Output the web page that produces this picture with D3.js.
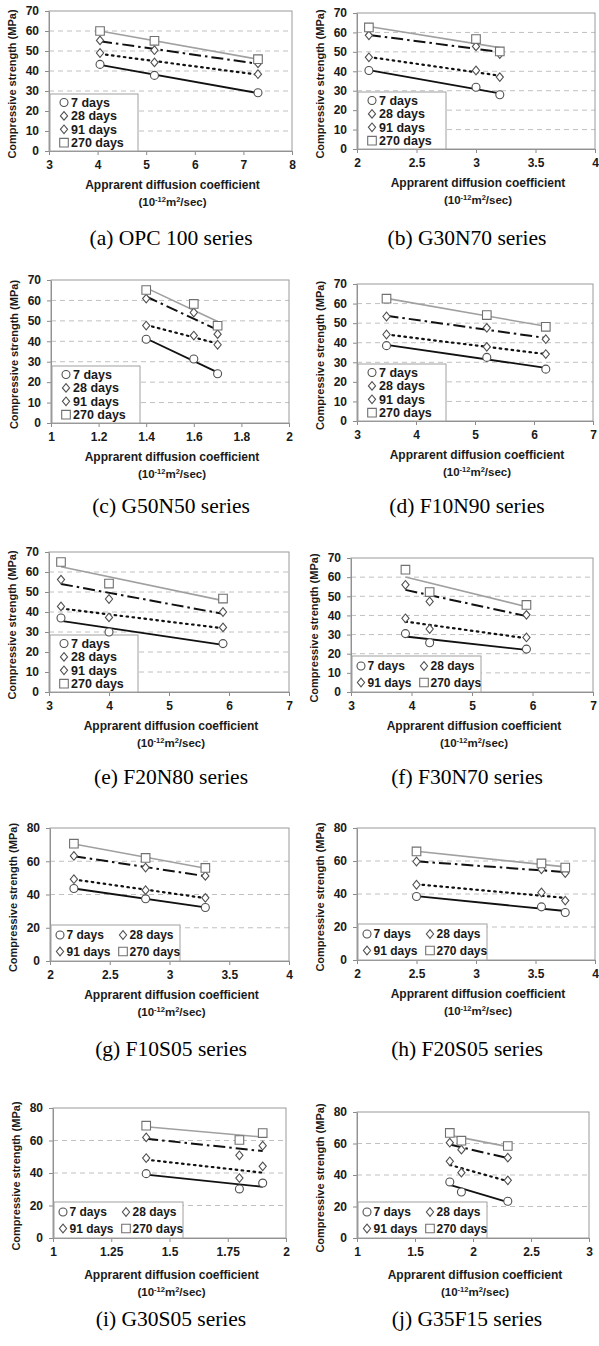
<!DOCTYPE html>
<html><head><meta charset="utf-8">
<script src="https://cdn.jsdelivr.net/npm/d3@7/dist/d3.min.js"></script>
<style>
body{margin:0;background:#fff;}
svg{display:block;}
text{font-family:"Liberation Sans",Arial,sans-serif;font-weight:bold;fill:#1a1a1a;}
text.cap{font-family:"Liberation Serif","Times New Roman",serif;font-weight:normal;font-size:21.5px;fill:#000;}
</style></head><body>
<svg id="fig" width="599" height="1346"></svg>
<script>
// Curing ages (one regression line + marker set each)
const ages = ["7 days", "28 days", "91 days", "270 days"];

// Panel captions
const captions = ["(a) OPC 100 series", "(b) G30N70 series", "(c) G50N50 series", "(d) F10N90 series",
  "(e) F20N80 series", "(f) F30N70 series", "(g) F10S05 series", "(h) F20S05 series",
  "(i) G30S05 series", "(j) G35F15 series"];

// Apparent diffusion coefficient (10^-12 m2/s) and compressive strength (MPa) per age
const opc100X = [4.05, 5.17, 7.3];
const opc100S = [[43.3, 37.8, 29.1], [49.0, 44.3, 38.4], [55.3, 50.4, 43.8], [60.0, 55.1, 45.9]];
const g30n70X = [2.1, 3.0, 3.2];
const g30n70S = [[40.4, 31.8, 27.9], [47.2, 40.4, 37.0], [58.5, 52.8, 48.9], [62.6, 56.6, 50.2]];
const g50n50X = [1.4, 1.6, 1.7];
const g50n50S = [[41.0, 31.3, 24.1], [47.7, 42.8, 38.3], [60.9, 54.1, 43.5], [65.1, 58.3, 47.6]];
const f10n90X = [3.5, 5.2, 6.2];
const f10n90S = [[38.5, 32.5, 26.5], [44.2, 37.9, 34.2], [53.4, 47.6, 41.8], [62.5, 54.1, 48.1]];
const f20n80X = [3.2, 4.0, 5.9];
const f20n80S = [[37.0, 30.0, 24.2], [42.8, 37.3, 32.3], [56.2, 46.5, 40.0], [65.0, 54.2, 46.7]];
const f30n70X = [3.9, 4.3, 5.9];
const f30n70S = [[30.5, 25.7, 22.4], [38.5, 32.9, 28.5], [56.0, 47.3, 40.3], [63.9, 52.2, 45.5]];
const f10s05X = [2.2, 2.8, 3.3];
const f10s05S = [[43.6, 37.4, 32.2], [49.2, 42.6, 38.0], [63.2, 56.2, 51.2], [70.6, 62.0, 56.0]];
const f20s05X = [2.5, 3.55, 3.75];
const f20s05S = [[38.5, 32.2, 28.8], [45.6, 40.9, 36.0], [59.7, 55.0, 52.7], [65.8, 58.5, 56.0]];
const g30s05X = [1.4, 1.8, 1.9];
const g30s05S = [[39.6, 30.2, 33.8], [49.2, 36.9, 44.1], [61.9, 50.9, 56.8], [69.1, 60.3, 64.6]];
const g35f15X = [1.8, 1.9, 2.3];
const g35f15S = [[35.6, 29.2, 23.3], [48.7, 41.5, 36.6], [60.5, 56.1, 51.0], [66.7, 61.8, 58.4]];

// Axis tick values
const xTicks3to8 = [3, 4, 5, 6, 7, 8];
const xTicks3to7 = [3, 4, 5, 6, 7];
const xTicks2to4 = [2, 2.5, 3, 3.5, 4];
const xTicks1to2 = [1, 1.2, 1.4, 1.6, 1.8, 2];
const xTicks1to2q = [1, 1.25, 1.5, 1.75, 2];
const xTicks1to3 = [1, 1.5, 2, 2.5, 3];
const yTicks70 = [0, 10, 20, 30, 40, 50, 60, 70];
const yTicks80 = [0, 20, 40, 60, 80];

const panels = [
  {x: opc100X, s: opc100S, xt: xTicks3to8, yt: yTicks70, legend: "col"},
  {x: g30n70X, s: g30n70S, xt: xTicks2to4, yt: yTicks70, legend: "col"},
  {x: g50n50X, s: g50n50S, xt: xTicks1to2, yt: yTicks70, legend: "col"},
  {x: f10n90X, s: f10n90S, xt: xTicks3to7, yt: yTicks70, legend: "col"},
  {x: f20n80X, s: f20n80S, xt: xTicks3to7, yt: yTicks70, legend: "col"},
  {x: f30n70X, s: f30n70S, xt: xTicks3to7, yt: yTicks70, legend: "grid"},
  {x: f10s05X, s: f10s05S, xt: xTicks2to4, yt: yTicks80, legend: "grid"},
  {x: f20s05X, s: f20s05S, xt: xTicks2to4, yt: yTicks80, legend: "grid"},
  {x: g30s05X, s: g30s05S, xt: xTicks1to2q, yt: yTicks80, legend: "grid"},
  {x: g35f15X, s: g35f15S, xt: xTicks1to3, yt: yTicks80, legend: "grid"}
];

// Plot-area rectangles [left, top, right, bottom] and caption rows
const frames = [
  [49, 11, 292, 151], [357, 13, 595, 149],
  [51, 280, 289, 423], [357, 284, 593, 421],
  [49, 552, 289, 692], [351, 558, 593, 692],
  [50, 828, 289, 961], [357, 828, 595, 960],
  [53, 1108, 286, 1238], [357, 1112, 589, 1238]
];
const captionY = [237, 505, 776, 1048, 1318];
const captionX = [171, 467];

// Line and marker styling per age
const lineStyle = [
  {stroke: "#111", width: 1.8, dash: null},
  {stroke: "#111", width: 2.2, dash: "1.6 4.4", cap: "round"},
  {stroke: "#111", width: 2, dash: "12 4 2.5 4"},
  {stroke: "#a0a0a0", width: 1.6, dash: null}
];
const markerKind = ["circle", "diamond", "diamond", "square"];

function markerPath(kind) {
  if (kind === "circle") return d3.symbol(d3.symbolCircle, 50)();
  if (kind === "square") return "M-4.3,-4.3H4.3V4.3H-4.3Z";
  return "M0,-4.3L3.6,0L0,4.3L-3.6,0Z";
}
function markerStroke(kind) { return kind === "square" ? "#707070" : "#505050"; }

function fitLine(xs, ys) {
  const mx = d3.mean(xs), my = d3.mean(ys);
  let sxy = 0, sxx = 0;
  xs.forEach((x, i) => { sxy += (x - mx) * (ys[i] - my); sxx += (x - mx) * (x - mx); });
  const b = sxy / sxx, a = my - b * mx;
  const x0 = d3.min(xs), x1 = d3.max(xs);
  return [[x0, a + b * x0], [x1, a + b * x1]];
}

const svg = d3.select("#fig");
const fmt = v => String(+v.toFixed(2));

panels.forEach((p, i) => {
  const [l, t, r, b] = frames[i];
  const g = svg.append("g");
  const xs = d3.scaleLinear().domain(d3.extent(p.xt)).range([l, r]);
  const ys = d3.scaleLinear().domain(d3.extent(p.yt)).range([b, t]);

  // dashed gridlines
  g.append("g").selectAll("line").data(p.yt.slice(1, -1)).join("line")
    .attr("x1", l).attr("x2", r).attr("y1", d => ys(d)).attr("y2", d => ys(d))
    .attr("stroke", "#c0c0c0").attr("stroke-width", 1).attr("stroke-dasharray", "5 4");

  // axes
  const xAxis = g.append("g").attr("transform", `translate(0,${b})`)
    .call(d3.axisBottom(xs).tickValues(p.xt).tickFormat(fmt).tickSizeInner(4).tickSizeOuter(0).tickPadding(5));
  const yAxis = g.append("g").attr("transform", `translate(${l},0)`)
    .call(d3.axisLeft(ys).tickValues(p.yt).tickFormat(fmt).tickSizeInner(4).tickSizeOuter(0).tickPadding(6));
  [xAxis, yAxis].forEach(ax => {
    ax.selectAll("path,line").attr("stroke", "#8a8a8a");
    ax.selectAll("text").attr("font-size", 12).attr("fill", "#1a1a1a")
      .style("font-family", "'Liberation Sans',Arial,sans-serif").style("font-weight", "bold");
  });
  g.append("rect").attr("x", l).attr("y", t).attr("width", r - l).attr("height", b - t)
    .attr("fill", "none").attr("stroke", "#9a9a9a").attr("stroke-width", 1);

  // legend
  const lg = g.append("g");
  if (p.legend === "col") {
    const lw = 88, lh = 57, lx = l + 1, ly = b - lh;
    lg.append("rect").attr("x", lx).attr("y", ly).attr("width", lw).attr("height", lh)
      .attr("fill", "#fff").attr("stroke", "#a0a0a0");
    ages.forEach((a, k) => {
      const yy = ly + 8.5 + k * 13.4;
      lg.append("path").attr("d", markerPath(markerKind[k])).attr("transform", `translate(${lx + 14},${yy})`)
        .attr("fill", "#fff").attr("stroke", markerStroke(markerKind[k])).attr("stroke-width", 1.1);
      lg.append("text").attr("x", lx + 21).attr("y", yy).attr("dy", "0.36em").attr("font-size", 12.5).text(a);
    });
  } else {
    const lw = 129, lh = 36, lx = l + 1, ly = b - lh;
    lg.append("rect").attr("x", lx).attr("y", ly).attr("width", lw).attr("height", lh)
      .attr("fill", "#fff").attr("stroke", "#a0a0a0");
    ages.forEach((a, k) => {
      const col = k % 2, row = Math.floor(k / 2);
      const mx = lx + (col ? 72 : 9), yy = ly + 10 + row * 16.5;
      lg.append("path").attr("d", markerPath(markerKind[k])).attr("transform", `translate(${mx},${yy})`)
        .attr("fill", "#fff").attr("stroke", markerStroke(markerKind[k])).attr("stroke-width", 1.1);
      lg.append("text").attr("x", mx + 6.5).attr("y", yy).attr("dy", "0.36em").attr("font-size", 12).text(a);
    });
  }

  // regression lines then markers
  const line = d3.line().x(d => xs(d[0])).y(d => ys(d[1]));
  p.s.forEach((vals, k) => {
    const st = lineStyle[k];
    g.append("path").attr("d", line(fitLine(p.x, vals))).attr("fill", "none")
      .attr("stroke", st.stroke).attr("stroke-width", st.width)
      .attr("stroke-dasharray", st.dash).attr("stroke-linecap", st.cap || "butt");
  });
  p.s.forEach((vals, k) => {
    g.append("g").selectAll("path").data(vals).join("path")
      .attr("d", markerPath(markerKind[k]))
      .attr("transform", (v, j) => `translate(${xs(p.x[j])},${ys(v)})`)
      .attr("fill", "#fff").attr("stroke", markerStroke(markerKind[k])).attr("stroke-width", 1.1);
  });

  // axis titles
  const cx = (l + r) / 2 + 2;
  const tOff = i >= 8 ? 37 : 34;
  g.append("text").attr("x", cx).attr("y", b + tOff).attr("dy", "0.35em").attr("text-anchor", "middle")
    .attr("font-size", 12).text("Apprarent diffusion coefficient");
  const u = g.append("text").attr("x", cx).attr("y", b + tOff + 17).attr("dy", "0.35em")
    .attr("text-anchor", "middle").attr("font-size", 11.5);
  u.append("tspan").text("(10");
  u.append("tspan").attr("dy", -4).attr("font-size", 7.5).text("-12");
  u.append("tspan").attr("dy", 4).text("m");
  u.append("tspan").attr("dy", -4).attr("font-size", 7.5).text("2");
  u.append("tspan").attr("dy", 4).text("/sec)");
  g.append("text").attr("transform", `translate(${l - 37},${(t + b) / 2 + 3}) rotate(-90)`)
    .attr("dy", "0.35em").attr("text-anchor", "middle").attr("font-size", 11)
    .text("Compressive strength (MPa)");

  // caption
  g.append("text").attr("class", "cap").attr("x", captionX[i % 2]).attr("y", captionY[Math.floor(i / 2)])
    .attr("dy", "0.35em").attr("text-anchor", "middle").text(captions[i]);
});
</script>
</body></html>
